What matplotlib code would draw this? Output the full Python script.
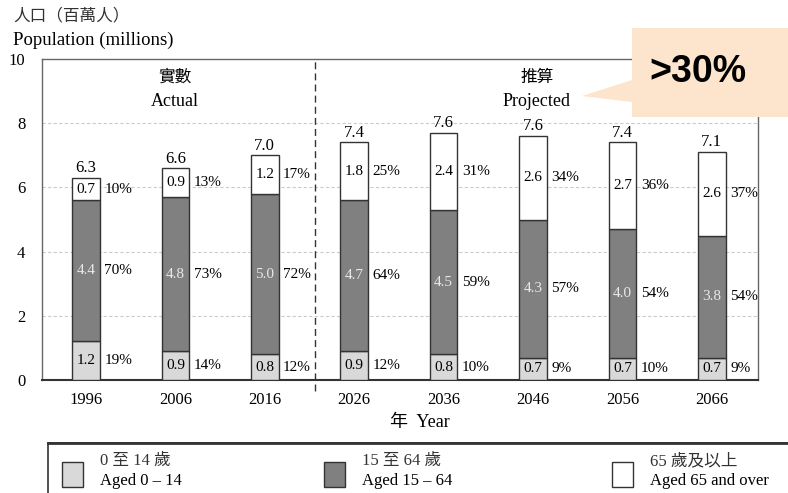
import numpy as np
import matplotlib
matplotlib.use("Agg")
import matplotlib.pyplot as plt
from matplotlib.patches import Rectangle, Polygon

plt.rcParams['font.family'] = ['Liberation Serif', 'Noto Sans CJK TC']

years = ['1996', '2006', '2016', '2026', '2036', '2046', '2056', '2066']
aged_0_14 = [1.2, 0.9, 0.8, 0.9, 0.8, 0.7, 0.7, 0.7]
aged_15_64 = [4.4, 4.8, 5.0, 4.7, 4.5, 4.3, 4.0, 3.8]
aged_65 = [0.7, 0.9, 1.2, 1.8, 2.4, 2.6, 2.7, 2.6]
totals = ['6.3', '6.6', '7.0', '7.4', '7.6', '7.6', '7.4', '7.1']
pct_0_14 = ['19%', '14%', '12%', '12%', '10%', '9%', '10%', '9%']
pct_15_64 = ['70%', '73%', '72%', '64%', '59%', '57%', '54%', '54%']
pct_65 = ['10%', '13%', '17%', '25%', '31%', '34%', '36%', '37%']

W, H = 788, 493
fig = plt.figure(figsize=(W / 100, H / 100), dpi=100)
ax = fig.add_axes([42 / W, 1 - 380 / H, 716 / W, 321 / H])

x = np.arange(len(years))
bw = 0.31
c_light, c_dark, c_white = '#d9d9d9', '#808080', '#ffffff'
ec = '#333333'

b1 = np.array(aged_0_14)
b2 = b1 + np.array(aged_15_64)
b3 = b2 + np.array(aged_65)

ax.bar(x, aged_0_14, bw, color=c_light, edgecolor=ec, linewidth=1, zorder=3)
ax.bar(x, aged_15_64, bw, bottom=b1, color=c_dark, edgecolor=ec, linewidth=1, zorder=3)
ax.bar(x, aged_65, bw, bottom=b2, color=c_white, edgecolor=ec, linewidth=1, zorder=3)

fs = 11
for i in range(len(years)):
    ax.text(x[i], aged_0_14[i] / 2, f'{aged_0_14[i]:.1f}', ha='center', va='center', fontsize=fs, zorder=4)
    ax.text(x[i], b1[i] + aged_15_64[i] / 2, f'{aged_15_64[i]:.1f}', ha='center', va='center',
            fontsize=fs, color='#e8e8e8', zorder=4)
    ax.text(x[i], b2[i] + aged_65[i] / 2, f'{aged_65[i]:.1f}', ha='center', va='center', fontsize=fs, zorder=4)
    ax.text(x[i], b3[i] + 0.05, totals[i], ha='center', va='bottom', fontsize=12, zorder=4)
    px = x[i] + bw / 2 + 0.05
    ax.text(px, aged_0_14[i] / 2, pct_0_14[i], ha='left', va='center', fontsize=fs, zorder=4)
    ax.text(px, b1[i] + aged_15_64[i] / 2, pct_15_64[i], ha='left', va='center', fontsize=fs, zorder=4)
    ax.text(px, b2[i] + aged_65[i] / 2, pct_65[i], ha='left', va='center', fontsize=fs, zorder=4)

ax.set_xlim(-0.492, 7.517)
ax.set_ylim(0, 10)
ax.set_yticks([0, 2, 4, 6, 8, 10])
ax.set_xticks(x)
ax.set_xticklabels(years)
ax.tick_params(axis='both', length=0, labelsize=12)
ax.tick_params(axis='y', pad=12)
ax.tick_params(axis='x', pad=9)
for yv in [2, 4, 6, 8]:
    ax.axhline(yv, color='#cccccc', linestyle=(0, (3, 2)), linewidth=0.8, zorder=1)
for s in ['top', 'right', 'left']:
    ax.spines[s].set_color('#666666')
    ax.spines[s].set_linewidth(1)
ax.spines['bottom'].set_color('#333333')
ax.spines['bottom'].set_linewidth(1.5)

# actual / projected separator
ax.plot([2.56, 2.56], [-0.35, 10], color='#333333', linestyle=(0, (5, 3)), linewidth=1,
        clip_on=False, zorder=2)

def fx(px):
    return px / W

def fy(py):
    return 1 - py / H

fig.text(fx(175), fy(78), '實數', ha='center', va='center', fontsize=12)
fig.text(fx(175), fy(101), 'Actual', ha='center', va='center', fontsize=13)
fig.text(fx(537), fy(78), '推算', ha='center', va='center', fontsize=12)
fig.text(fx(537), fy(101), 'Projected', ha='center', va='center', fontsize=13)

fig.text(fx(13), fy(16), '人口（百萬人）', ha='left', va='center', fontsize=12, color='#333333')
fig.text(fx(13), fy(40), 'Population (millions)', ha='left', va='center', fontsize=13.5)
fig.text(fx(420), fy(423), '年  Year', ha='center', va='center', fontsize=13)

# callout
fig.patches.append(Polygon([(fx(632), fy(28)), (fx(800), fy(28)), (fx(800), fy(117)),
                            (fx(632), fy(117)), (fx(632), fy(102)), (fx(582), fy(96)),
                            (fx(632), fy(80))], closed=True, transform=fig.transFigure,
                           facecolor='#fce4cd', edgecolor='none', zorder=10))
fig.text(fx(698), fy(72), '>30%', ha='center', va='center', fontsize=27, fontweight='bold',
         family='Liberation Sans', zorder=11)

# legend
fig.patches.append(Rectangle((fx(48), fy(500)), fx(760), fy(443) - fy(500), transform=fig.transFigure,
                             facecolor='white', edgecolor='#333333', linewidth=1.2))
fig.add_artist(plt.Line2D([fx(48), fx(800)], [fy(443), fy(443)], color='#333333', linewidth=2,
                          transform=fig.transFigure))
leg = [(62, c_light, '0 至 14 歲', 'Aged 0 – 14'),
       (324, c_dark, '15 至 64 歲', 'Aged 15 – 64'),
       (612, c_white, '65 歲及以上', 'Aged 65 and over')]
for lx, col, zh, en in leg:
    fig.patches.append(Rectangle((fx(lx), fy(487)), 21 / W, 25 / H, transform=fig.transFigure,
                                 facecolor=col, edgecolor='#333333', linewidth=1))
    fig.text(fx(lx + 38), fy(461), zh, ha='left', va='center', fontsize=12, color='#333333')
    fig.text(fx(lx + 38), fy(481), en, ha='left', va='center', fontsize=12)

fig.savefig('out.png', dpi=100)
